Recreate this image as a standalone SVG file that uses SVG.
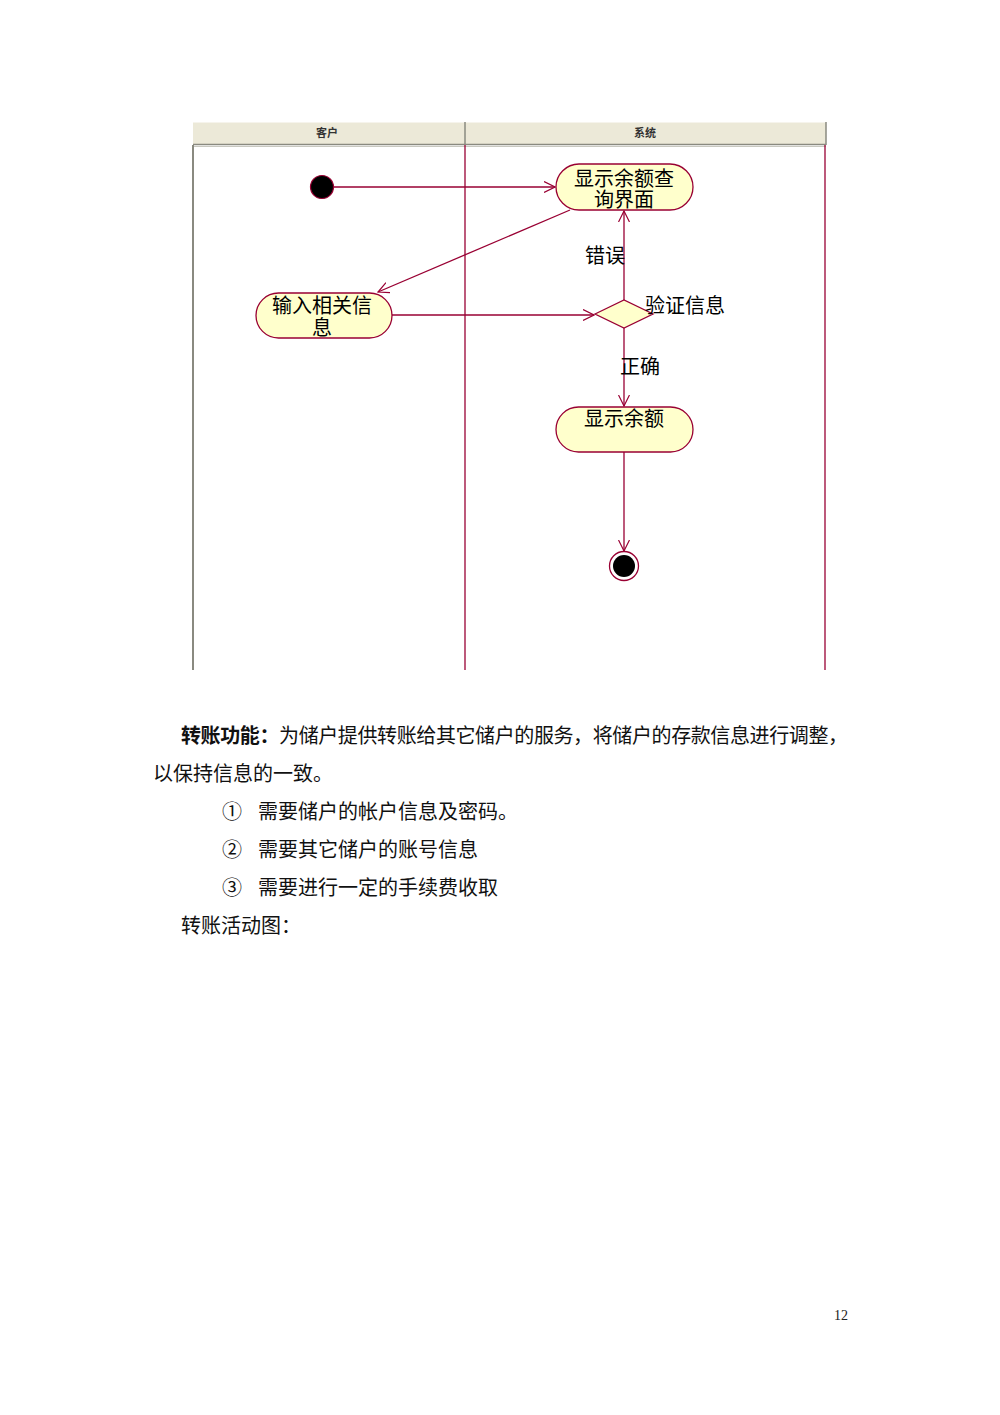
<svg xmlns="http://www.w3.org/2000/svg" width="1000" height="1415" viewBox="0 0 1000 1415">
<style>
.lane{stroke:#990033;stroke-width:1.3;fill:none}
.edge{stroke:#990033;stroke-width:1.3;fill:none}
.act{fill:#ffffcc;stroke:#990033;stroke-width:1.3}
.lbl{font-family:"Liberation Sans","Noto Sans CJK SC",sans-serif;font-size:20px;fill:#000}
.hdr{font-family:"Liberation Sans","Noto Sans CJK SC",sans-serif;font-size:11px;font-weight:bold;fill:#333;text-anchor:middle}
.body{font-family:"Liberation Serif","Noto Sans CJK SC",serif;font-size:20px;fill:#111}
</style>
<defs>
<marker id="arr" viewBox="0 0 12 12" refX="11" refY="6" markerWidth="12" markerHeight="12" markerUnits="userSpaceOnUse" orient="auto">
<path d="M0,0.5 L11,6 L0,11.5" fill="none" stroke="#990033" stroke-width="1.2"/>
</marker>
</defs>
<rect width="1000" height="1415" fill="#ffffff"/>
<g id="swimlanes">
<rect x="193" y="122" width="633" height="22" fill="#ece9d8"/>
<line x1="193" y1="122" x2="826" y2="122" stroke="#ffffff" stroke-width="1"/>
<line x1="193" y1="144.5" x2="826" y2="144.5" stroke="#8a8a80" stroke-width="1.5"/>
<line x1="193" y1="146.5" x2="826" y2="146.5" stroke="#c8c8c0" stroke-width="1"/>
<line x1="465" y1="122" x2="465" y2="145" stroke="#8a8a80" stroke-width="1.5"/>
<line x1="826" y1="122" x2="826" y2="145" stroke="#8a8a80" stroke-width="1.5"/>
<text class="hdr" x="327" y="137">客户</text>
<text class="hdr" x="645" y="137">系统</text>
<line x1="193" y1="145" x2="193" y2="670" stroke="#8a8a80" stroke-width="2"/>
<line class="lane" x1="465" y1="145" x2="465" y2="670"/>
<line class="lane" x1="825" y1="145" x2="825" y2="670"/>
</g>
<g id="edges">
<line class="edge" x1="334" y1="187" x2="555" y2="187" marker-end="url(#arr)"/>
<line class="edge" x1="570" y1="210" x2="378" y2="292" marker-end="url(#arr)"/>
<line class="edge" x1="392" y1="315" x2="594" y2="315" marker-end="url(#arr)"/>
<line class="edge" x1="624" y1="300" x2="624" y2="211" marker-end="url(#arr)"/>
<line class="edge" x1="624" y1="328" x2="624" y2="406" marker-end="url(#arr)"/>
<line class="edge" x1="624" y1="452" x2="624" y2="551" marker-end="url(#arr)"/>
<text class="lbl" x="585" y="263">错误</text>
<text class="lbl" x="620" y="374">正确</text>
</g>
<g id="start">
<circle cx="322" cy="187" r="11.5" fill="#000" stroke="#990033" stroke-width="1.2"/>
</g>
<g id="showQueryUI">
<rect class="act" x="556" y="164" width="137" height="46" rx="23" ry="23"/>
<text class="lbl" x="624" y="186" text-anchor="middle">显示余额查</text>
<text class="lbl" x="624" y="207" text-anchor="middle">询界面</text>
</g>
<g id="inputInfo">
<rect class="act" x="256" y="293" width="136" height="45" rx="22.5" ry="22.5"/>
<text class="lbl" x="322" y="313" text-anchor="middle">输入相关信</text>
<text class="lbl" x="322" y="335" text-anchor="middle">息</text>
</g>
<g id="verify">
<polygon points="595,314 624,300 653,314 624,328" fill="#ffffcc" stroke="#990033" stroke-width="1.3"/>
<text class="lbl" x="645" y="313">验证信息</text>
</g>
<g id="showBalance">
<rect class="act" x="556" y="407" width="137" height="45" rx="22.5" ry="22.5"/>
<text class="lbl" x="624" y="426" text-anchor="middle">显示余额</text>
</g>
<g id="end">
<circle cx="624" cy="566" r="14.5" fill="#fff" stroke="#990033" stroke-width="1.3"/>
<circle cx="624" cy="566" r="11" fill="#000"/>
</g>
<g id="text">
<text class="body" x="181" y="743" textLength="667" lengthAdjust="spacing"><tspan font-weight="bold">转账功能：</tspan>为储户提供转账给其它储户的服务，将储户的存款信息进行调整，</text>
<text class="body" x="153" y="781">以保持信息的一致。</text>
<text class="body" x="222" y="819">①</text>
<text class="body" x="258" y="819">需要储户的帐户信息及密码。</text>
<text class="body" x="222" y="857">②</text>
<text class="body" x="258" y="857">需要其它储户的账号信息</text>
<text class="body" x="222" y="895">③</text>
<text class="body" x="258" y="895">需要进行一定的手续费收取</text>
<text class="body" x="181" y="933">转账活动图：</text>
<text x="834" y="1320" font-family="Liberation Serif,serif" font-size="14" fill="#222">12</text>
</g>
</svg>
